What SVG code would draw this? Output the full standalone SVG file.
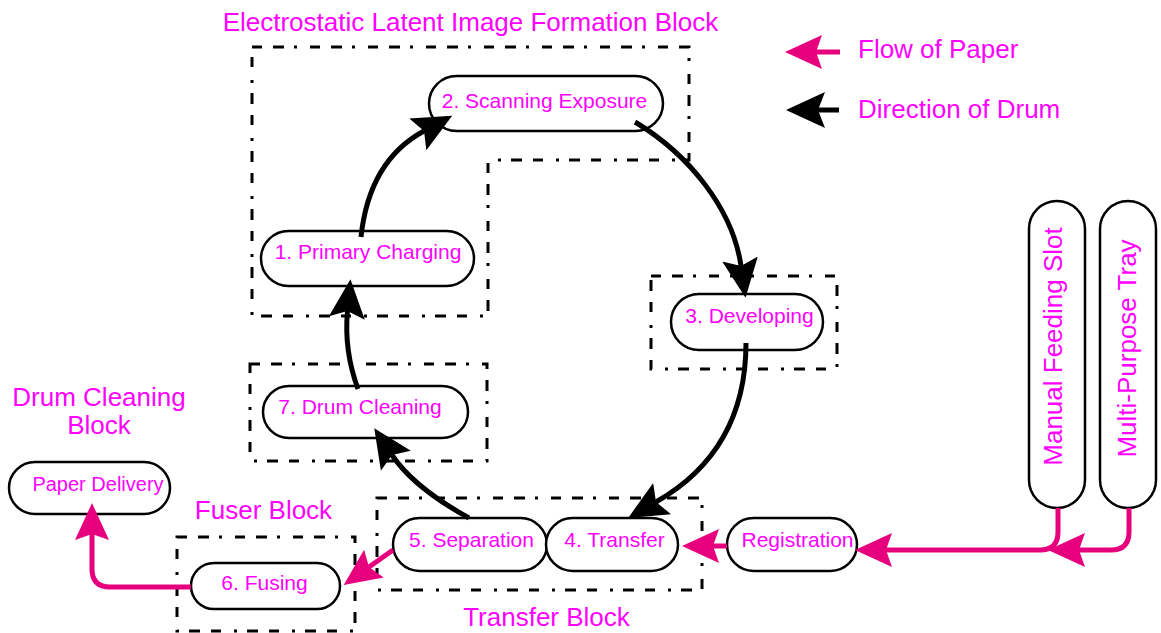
<svg xmlns="http://www.w3.org/2000/svg" width="1161" height="633" viewBox="0 0 1161 633">
<style>
.blk{fill:none;stroke:#000;stroke-width:3;stroke-dasharray:10 11 11 10 3 13}
.nd{fill:#fff;stroke:#000;stroke-width:2.5}
.t{font-family:"Liberation Sans",Arial,sans-serif;fill:#ff00ff;text-anchor:middle}
.n{font-size:21px}
.l{font-size:26px}
.dr{fill:none;stroke:#000;stroke-width:5;marker-end:url(#ak)}
.pp{fill:none;stroke:#e6007e;stroke-width:5;marker-end:url(#ap)}
</style>
<defs>
<marker id="ak" markerUnits="userSpaceOnUse" markerWidth="42" markerHeight="38" viewBox="0 0 42 38" refX="7" refY="19" orient="auto"><path d="M0,1 L39,19 L0,37 L7,19 Z" fill="#000"/></marker>
<marker id="ap" markerUnits="userSpaceOnUse" markerWidth="40" markerHeight="36" viewBox="0 0 40 36" refX="6" refY="18" orient="auto"><path d="M0,1 L37,18 L0,35 L6,18 Z" fill="#e6007e"/></marker>
</defs>
<rect width="1161" height="633" fill="#fff"/>
<g id="blocks">
<path class="blk" d="M252,47 L689,47 L689,160 L488,160 L488,316 L252,316 Z"/>
<rect class="blk" x="651" y="276" width="186" height="93"/>
<rect class="blk" x="250" y="364" width="237" height="97"/>
<rect class="blk" x="377" y="498" width="325" height="92"/>
<rect class="blk" x="177" y="537" width="178" height="94"/>
</g>
<g id="block-labels">
<text class="t l" x="470.5" y="31">Electrostatic Latent Image Formation Block</text>
<text class="t l" x="99" y="406">Drum Cleaning</text>
<text class="t l" x="99" y="434">Block</text>
<text class="t l" x="263.5" y="519">Fuser Block</text>
<text class="t l" x="546.5" y="626">Transfer Block</text>
</g>
<g id="legend">
<path class="pp" d="M840,52 L816,52"/>
<text class="t l" x="858" y="58" style="text-anchor:start">Flow of Paper</text>
<path class="dr" d="M839,110 L818,110"/>
<text class="t l" x="858" y="118" style="text-anchor:start">Direction of Drum</text>
</g>
<g id="n2"><rect class="nd" x="429" y="76" width="234" height="55" rx="27.5"/><text class="t n" x="544.5" y="108">2. Scanning Exposure</text></g>
<g id="n1"><rect class="nd" x="261" y="231" width="213" height="55" rx="27.5"/><text class="t n" x="368" y="259">1. Primary Charging</text></g>
<g id="n3"><rect class="nd" x="671" y="294" width="152" height="56" rx="28"/><text class="t n" x="749.5" y="323">3. Developing</text></g>
<g id="n7"><rect class="nd" x="263" y="386" width="205" height="52" rx="26"/><text class="t n" x="360" y="414">7. Drum Cleaning</text></g>
<g id="n5"><rect class="nd" x="393" y="518" width="154" height="53" rx="26.5"/><text class="t n" x="471.5" y="547">5. Separation</text></g>
<g id="n4"><rect class="nd" x="546" y="518" width="132" height="53" rx="26.5"/><text class="t n" x="614.5" y="547">4. Transfer</text></g>
<g id="reg"><rect class="nd" x="727" y="518" width="130" height="53" rx="26.5"/><text class="t n" x="797.5" y="547">Registration</text></g>
<g id="n6"><rect class="nd" x="191" y="563" width="149" height="46" rx="23"/><text class="t n" x="264.5" y="590">6. Fusing</text></g>
<g id="delivery"><rect class="nd" x="9" y="462" width="161" height="52" rx="26"/><text class="t" style="font-size:20px" x="98" y="491">Paper Delivery</text></g>
<g id="manual"><rect class="nd" x="1029" y="201" width="56" height="307" rx="28"/><text class="t l" transform="translate(1062,346.5) rotate(-90)">Manual Feeding Slot</text></g>
<g id="tray"><rect class="nd" x="1100" y="201" width="56" height="307" rx="28"/><text class="t l" transform="translate(1136,348.5) rotate(-90)">Multi-Purpose Tray</text></g>
<g id="connectors">
<path class="dr" d="M361,237 C366,190 385,152 424,131"/>
<path class="dr" d="M635,122 C690,155 733,210 741,266"/>
<path class="dr" d="M746,343 C746,420 712,470 656,502"/>
<path class="dr" d="M469,518 C440,502 410,482 392,455"/>
<path class="dr" d="M358,389 C348,362 345,338 347.5,311"/>
<path class="pp" d="M1058,508 L1058,532 Q1058,550 1040,550 L886,550"/>
<path class="pp" d="M1129,508 L1129,532 Q1129,550 1111,550 L1079,550"/>
<path class="pp" d="M727,546 L713,546"/>
<path class="pp" d="M393,550 L369,567"/>
<path class="pp" d="M191,587 L110,587 Q92,587 92,569 L92,534"/>
</g>
</svg>
